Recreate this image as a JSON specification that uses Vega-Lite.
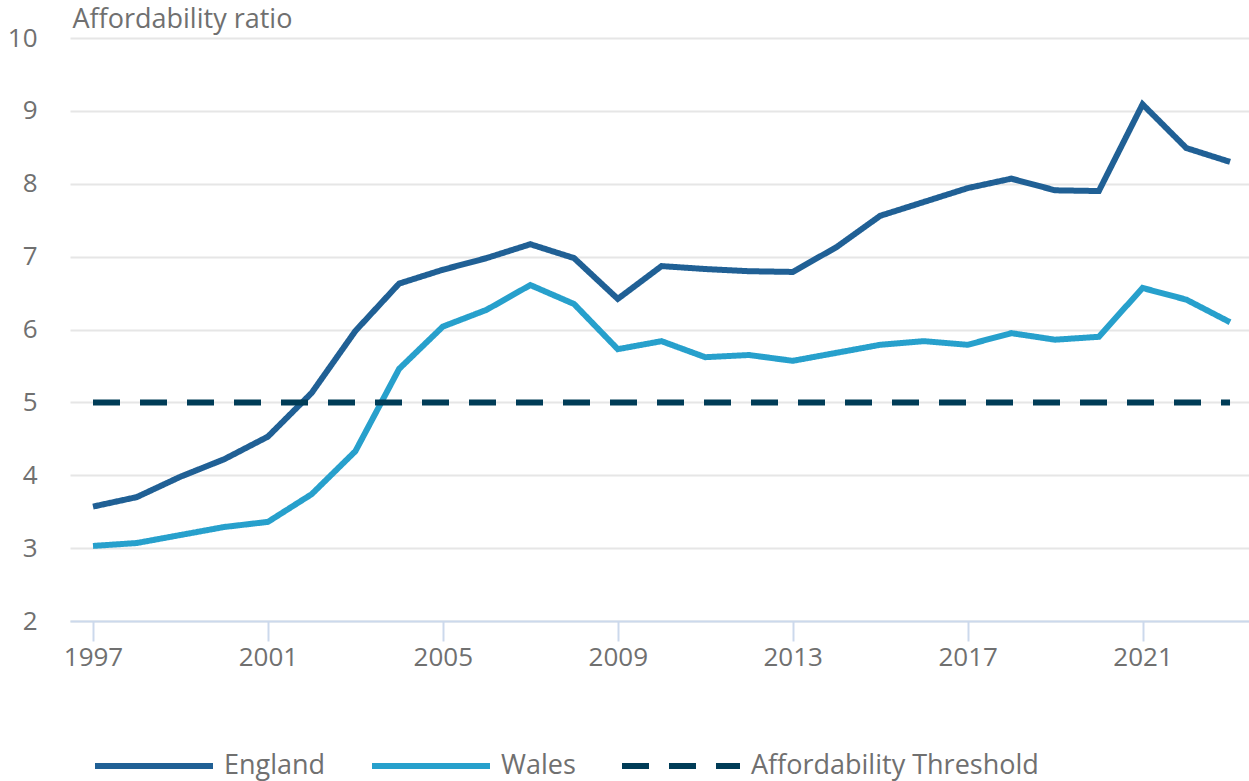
{
  "$schema": "https://vega.github.io/schema/vega-lite/v6.json",
  "width": 1179,
  "height": 583,
  "autosize": "none",
  "padding": {"left": 70, "top": 38, "right": 0, "bottom": 160},
  "background": "white",
  "config": {
    "font": "Open Sans",
    "view": {"stroke": null},
    "axis": {"labelFont": "Open Sans", "titleFont": "Open Sans"}
  },
  "data": {
    "values": [
      {"year": 1997, "series": "England", "ratio": 3.57},
      {"year": 1998, "series": "England", "ratio": 3.70},
      {"year": 1999, "series": "England", "ratio": 3.98},
      {"year": 2000, "series": "England", "ratio": 4.22},
      {"year": 2001, "series": "England", "ratio": 4.53},
      {"year": 2002, "series": "England", "ratio": 5.13},
      {"year": 2003, "series": "England", "ratio": 5.98},
      {"year": 2004, "series": "England", "ratio": 6.63},
      {"year": 2005, "series": "England", "ratio": 6.82},
      {"year": 2006, "series": "England", "ratio": 6.98},
      {"year": 2007, "series": "England", "ratio": 7.17},
      {"year": 2008, "series": "England", "ratio": 6.98},
      {"year": 2009, "series": "England", "ratio": 6.42},
      {"year": 2010, "series": "England", "ratio": 6.87},
      {"year": 2011, "series": "England", "ratio": 6.83},
      {"year": 2012, "series": "England", "ratio": 6.80},
      {"year": 2013, "series": "England", "ratio": 6.79},
      {"year": 2014, "series": "England", "ratio": 7.13},
      {"year": 2015, "series": "England", "ratio": 7.56},
      {"year": 2016, "series": "England", "ratio": 7.75},
      {"year": 2017, "series": "England", "ratio": 7.94},
      {"year": 2018, "series": "England", "ratio": 8.07},
      {"year": 2019, "series": "England", "ratio": 7.91},
      {"year": 2020, "series": "England", "ratio": 7.90},
      {"year": 2021, "series": "England", "ratio": 9.09},
      {"year": 2022, "series": "England", "ratio": 8.49},
      {"year": 2023, "series": "England", "ratio": 8.30},
      {"year": 1997, "series": "Wales", "ratio": 3.03},
      {"year": 1998, "series": "Wales", "ratio": 3.07},
      {"year": 1999, "series": "Wales", "ratio": 3.18},
      {"year": 2000, "series": "Wales", "ratio": 3.29},
      {"year": 2001, "series": "Wales", "ratio": 3.36},
      {"year": 2002, "series": "Wales", "ratio": 3.74},
      {"year": 2003, "series": "Wales", "ratio": 4.33},
      {"year": 2004, "series": "Wales", "ratio": 5.46},
      {"year": 2005, "series": "Wales", "ratio": 6.04},
      {"year": 2006, "series": "Wales", "ratio": 6.27},
      {"year": 2007, "series": "Wales", "ratio": 6.61},
      {"year": 2008, "series": "Wales", "ratio": 6.35},
      {"year": 2009, "series": "Wales", "ratio": 5.73},
      {"year": 2010, "series": "Wales", "ratio": 5.84},
      {"year": 2011, "series": "Wales", "ratio": 5.62},
      {"year": 2012, "series": "Wales", "ratio": 5.65},
      {"year": 2013, "series": "Wales", "ratio": 5.57},
      {"year": 2014, "series": "Wales", "ratio": 5.68},
      {"year": 2015, "series": "Wales", "ratio": 5.79},
      {"year": 2016, "series": "Wales", "ratio": 5.84},
      {"year": 2017, "series": "Wales", "ratio": 5.79},
      {"year": 2018, "series": "Wales", "ratio": 5.95},
      {"year": 2019, "series": "Wales", "ratio": 5.86},
      {"year": 2020, "series": "Wales", "ratio": 5.90},
      {"year": 2021, "series": "Wales", "ratio": 6.57},
      {"year": 2022, "series": "Wales", "ratio": 6.41},
      {"year": 2023, "series": "Wales", "ratio": 6.10},
      {"year": 1997, "series": "Affordability Threshold", "ratio": 5},
      {"year": 2023, "series": "Affordability Threshold", "ratio": 5}
    ]
  },
  "mark": {"type": "line", "strokeWidth": 6, "strokeCap": "butt", "strokeJoin": "miter"},
  "encoding": {
    "x": {
      "field": "year",
      "type": "quantitative",
      "scale": {"domain": [1996.474, 2023.434], "nice": false, "zero": false},
      "axis": {
        "values": [1997, 2001, 2005, 2009, 2013, 2017, 2021],
        "format": "d",
        "title": null,
        "grid": false,
        "domainColor": "#ccd9ec",
        "domainWidth": 2,
        "tickColor": "#ccd9ec",
        "tickWidth": 2,
        "tickSize": 20,
        "labelFontSize": 26,
        "labelColor": "#707070",
        "labelPadding": 3
      }
    },
    "y": {
      "field": "ratio",
      "type": "quantitative",
      "scale": {"domain": [2, 10], "nice": false, "zero": false},
      "axis": {
        "values": [2, 3, 4, 5, 6, 7, 8, 9, 10],
        "title": "Affordability ratio",
        "titleAngle": 0,
        "titleAlign": "left",
        "titleBaseline": "middle",
        "titleX": 2,
        "titleY": -19,
        "titleFontSize": 27,
        "titleFontWeight": "normal",
        "titleColor": "#707070",
        "domain": false,
        "ticks": false,
        "grid": true,
        "gridColor": "#e6e6e6",
        "gridWidth": 2,
        "labelFontSize": 26,
        "labelColor": "#707070",
        "labelPadding": 33
      }
    },
    "color": {
      "field": "series",
      "type": "nominal",
      "scale": {
        "domain": ["England", "Wales", "Affordability Threshold"],
        "range": ["#206095", "#27a0cc", "#003c57"]
      },
      "legend": {
        "title": null,
        "orient": "none",
        "direction": "horizontal",
        "legendX": 22,
        "legendY": 666,
        "symbolType": "stroke",
        "symbolSize": 13924,
        "symbolStrokeWidth": 6,
        "labelFontSize": 27,
        "labelColor": "#707070",
        "labelOffset": 8,
        "columnPadding": 34,
        "labelLimit": 400
      }
    },
    "strokeDash": {
      "field": "series",
      "type": "nominal",
      "scale": {
        "domain": ["England", "Wales", "Affordability Threshold"],
        "range": [[1, 0], [1, 0], [27, 20]]
      },
      "legend": null
    }
  }
}
